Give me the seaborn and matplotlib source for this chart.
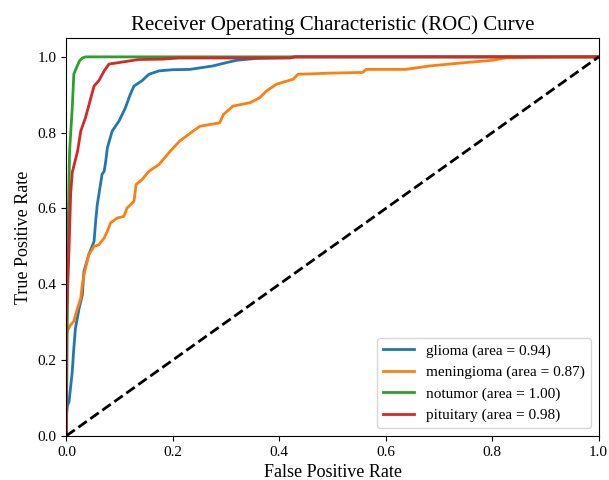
import pandas as pd
import seaborn as sns
import matplotlib
matplotlib.use("Agg")
import matplotlib.pyplot as plt

# Courbes ROC (fpr, tpr) pour chaque classe
classes = ["glioma", "meningioma", "notumor", "pituitary"]
aucs = [0.94, 0.87, 1.00, 0.98]
colors = ["#1f77b4", "#ff7f0e", "#2ca02c", "#d62728"]

fpr_glioma = [0.0, 0.0, 0.002, 0.005, 0.011, 0.014, 0.017, 0.024, 0.030, 0.033, 0.042,
              0.052, 0.055, 0.058, 0.064, 0.067, 0.071, 0.074, 0.077, 0.086, 0.099, 0.111,
              0.120, 0.127, 0.142, 0.155, 0.174, 0.199, 0.232, 0.275, 0.301, 0.320, 0.357,
              0.413, 0.43, 1.0]
tpr_glioma = [0.0, 0.05, 0.08, 0.09, 0.169, 0.231, 0.284, 0.337, 0.372, 0.434, 0.478,
              0.513, 0.566, 0.610, 0.663, 0.690, 0.698, 0.725, 0.760, 0.804, 0.831, 0.866,
              0.901, 0.923, 0.937, 0.954, 0.963, 0.966, 0.967, 0.976, 0.985, 0.991, 0.996,
              0.998, 1.0, 1.0]

fpr_meningioma = [0.0, 0.0, 0.003, 0.008, 0.014, 0.021, 0.027, 0.030, 0.033, 0.039, 0.042,
                  0.052, 0.061, 0.071, 0.077, 0.083, 0.096, 0.108, 0.114, 0.127, 0.131,
                  0.142, 0.155, 0.174, 0.195, 0.213, 0.238, 0.251, 0.288, 0.295, 0.313,
                  0.345, 0.363, 0.376, 0.395, 0.426, 0.435, 0.494, 0.557, 0.563, 0.638,
                  0.682, 0.750, 0.800, 0.825, 0.930, 1.0]
tpr_meningioma = [0.0, 0.267, 0.28, 0.293, 0.302, 0.337, 0.363, 0.400, 0.425, 0.460, 0.478,
                  0.500, 0.504, 0.522, 0.540, 0.562, 0.575, 0.579, 0.601, 0.619, 0.663,
                  0.676, 0.698, 0.716, 0.751, 0.778, 0.804, 0.817, 0.826, 0.848, 0.870,
                  0.879, 0.892, 0.910, 0.928, 0.941, 0.954, 0.957, 0.959, 0.967, 0.967,
                  0.976, 0.985, 0.991, 0.997, 1.0, 1.0]

fpr_notumor = [0.0, 0.002, 0.004, 0.006, 0.009, 0.011, 0.014, 0.021, 0.025, 0.030, 0.036, 1.0]
tpr_notumor = [0.0, 0.35, 0.60, 0.75, 0.82, 0.865, 0.955, 0.978, 0.99, 0.997, 1.0, 1.0]

fpr_pituitary = [0.0, 0.0, 0.003, 0.005, 0.008, 0.011, 0.021, 0.027, 0.036, 0.046, 0.052,
                 0.061, 0.071, 0.080, 0.099, 0.117, 0.136, 0.180, 0.211, 0.42, 0.43, 1.0]
tpr_pituitary = [0.0, 0.30, 0.42, 0.495, 0.637, 0.695, 0.751, 0.804, 0.840, 0.892, 0.923,
                 0.937, 0.963, 0.981, 0.985, 0.989, 0.993, 0.994, 0.997, 0.997, 1.0, 1.0]

fprs = [fpr_glioma, fpr_meningioma, fpr_notumor, fpr_pituitary]
tprs = [tpr_glioma, tpr_meningioma, tpr_notumor, tpr_pituitary]

plt.rcParams["font.family"] = ["Liberation Serif", "DejaVu Serif"]
plt.rcParams["xtick.labelsize"] = 11
plt.rcParams["ytick.labelsize"] = 11

fig = plt.figure(figsize=(6.09, 4.8), dpi=100)
ax = fig.add_axes([0.109, 0.092, 0.874, 0.829])

for name, auc, col, fpr, tpr in zip(classes, aucs, colors, fprs, tprs):
    df = pd.DataFrame({"fpr": fpr, "tpr": tpr})
    sns.lineplot(data=df, x="fpr", y="tpr", ax=ax, color=col, lw=2,
                 sort=False, estimator=None,
                 label=f"{name} (area = {auc:.2f})")

ax.plot([0, 1], [0, 1], "k--", lw=2)
ax.set_xlim(0.0, 1.0)
ax.set_ylim(0.0, 1.05)
ax.set_xlabel("False Positive Rate", fontsize=13)
ax.set_ylabel("True Positive Rate", fontsize=13)
ax.set_title("Receiver Operating Characteristic (ROC) Curve", fontsize=15)
ax.legend(loc="lower right", fontsize=11)

fig.savefig("out.png", dpi=100)
